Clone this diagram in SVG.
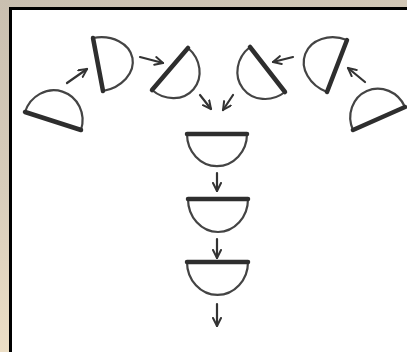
<svg xmlns="http://www.w3.org/2000/svg" width="407" height="352" viewBox="0 0 407 352">
<defs>
<linearGradient id="bg" x1="0" y1="0" x2="0.3" y2="1">
<stop offset="0" stop-color="#c9bfb0"/>
<stop offset="0.5" stop-color="#d8cdbb"/>
<stop offset="1" stop-color="#f0e2c8"/>
</linearGradient>
<marker id="ah" viewBox="0 0 10 10" refX="9" refY="5" markerWidth="10" markerHeight="10" markerUnits="userSpaceOnUse" orient="auto">
<path d="M1,1 L9,5 L1,9" fill="none" stroke="#333" stroke-width="2" stroke-linecap="round" stroke-linejoin="round"/>
</marker>
</defs>
<style>
.arc{fill:#fff;stroke:#444;stroke-width:2.2;stroke-linejoin:round}
.flat{stroke:#2e2e2e;stroke-width:4.5;stroke-linecap:round}
.con{fill:none;stroke:#333;stroke-width:2.2;stroke-linecap:round;marker-end:url(#ah)}
</style>
<rect x="0" y="0" width="407" height="352" fill="url(#bg)"/>
<rect x="10.5" y="8.5" width="420" height="370" fill="#fff" stroke="#000" stroke-width="3"/>

<g id="n1">
<path class="arc" d="M25,112 A10 10.5 17.8 0 1 81,130 Z"/>
<line class="flat" x1="25" y1="112" x2="81" y2="130"/>
</g>
<g id="n2">
<path class="arc" d="M93,38 A10 13 79.5 0 1 103,91 Z"/>
<line class="flat" x1="93" y1="38" x2="103" y2="91"/>
</g>
<g id="n3">
<path class="arc" d="M152,90 A10 11.2 -49.4 0 0 188,48 Z"/>
<line class="flat" x1="152" y1="90" x2="188" y2="48"/>
</g>
<g id="n4">
<path class="arc" d="M250,47 A10 10.9 52.1 0 0 285,92 Z"/>
<line class="flat" x1="250" y1="47" x2="285" y2="92"/>
</g>
<g id="n5">
<path class="arc" d="M347,40 A10 12.2 111 0 0 327,92 Z"/>
<line class="flat" x1="347" y1="40" x2="327" y2="92"/>
</g>
<g id="n6">
<path class="arc" d="M353,130 A10 10.6 -23.9 0 1 405,107 Z"/>
<line class="flat" x1="353" y1="130" x2="405" y2="107"/>
</g>
<g id="n7">
<path class="arc" d="M187,134 A10 10.7 0 0 0 247,134 Z"/>
<line class="flat" x1="187" y1="134" x2="247" y2="134"/>
</g>
<g id="n8">
<path class="arc" d="M188,199 A10 11 0 0 0 248,199 Z"/>
<line class="flat" x1="188" y1="199" x2="248" y2="199"/>
</g>
<g id="n9">
<path class="arc" d="M187,262 A10 10.8 0 0 0 248,262 Z"/>
<line class="flat" x1="187" y1="262" x2="248" y2="262"/>
</g>

<g id="connectors">
<line class="con" x1="67" y1="83" x2="87" y2="69"/>
<line class="con" x1="140" y1="57" x2="163" y2="63"/>
<line class="con" x1="293" y1="57" x2="273" y2="62"/>
<line class="con" x1="365" y1="82" x2="348" y2="68"/>
<line class="con" x1="200" y1="95" x2="211" y2="109"/>
<line class="con" x1="233" y1="95" x2="223" y2="110"/>
<line class="con" x1="217" y1="173" x2="217" y2="191"/>
<line class="con" x1="217" y1="239" x2="217" y2="258"/>
<line class="con" x1="217" y1="304" x2="217" y2="326"/>
</g>
</svg>
